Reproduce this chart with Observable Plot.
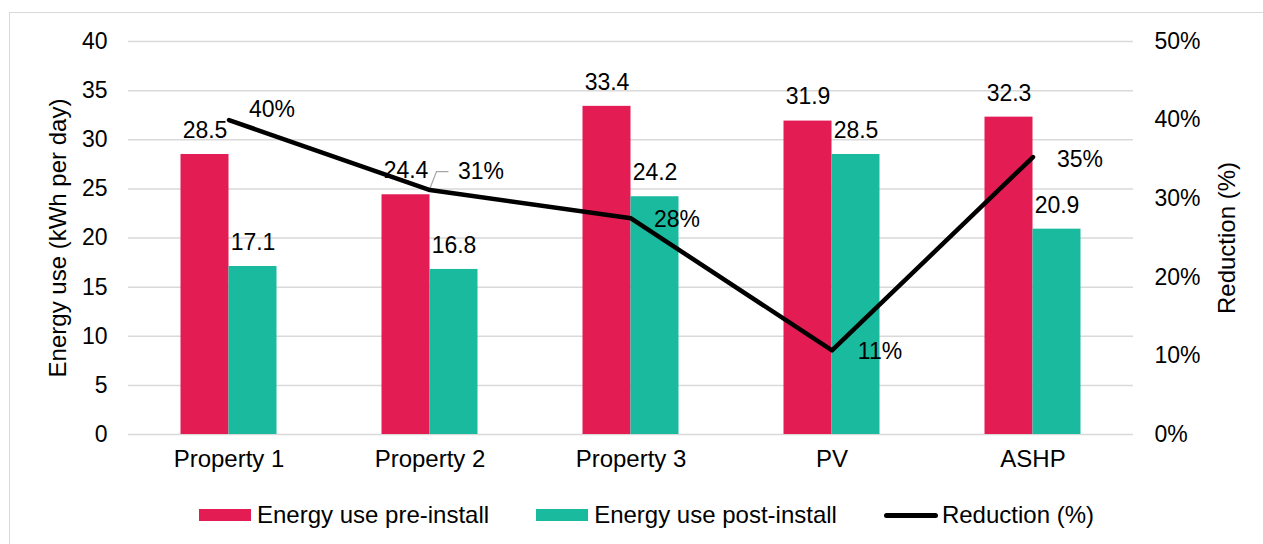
<!DOCTYPE html>
<html>
<head>
<meta charset="utf-8">
<script src="https://cdn.jsdelivr.net/npm/d3@7"></script>
<script src="https://cdn.jsdelivr.net/npm/@observablehq/plot@0.6"></script>
<style>
  html, body { margin: 0; padding: 0; background: #fff; overflow: hidden; }
  body { font-family: "Liberation Sans", Arial, sans-serif; color: #000; }
  #frame { position: absolute; left: 9px; top: 12px; width: 1300px; height: 600px;
           border: 1px solid #d9d9d9; pointer-events: none; }
  #chart { position: relative; }
  #legend { display: flex; align-items: center; height: 30px; margin-top: 20px;
            padding-left: 199px; font-size: 24px; gap: 47px; }
  .item { display: flex; align-items: center; white-space: nowrap; }
  .swatch { width: 52px; height: 12px; margin-right: 6px; }
  .lineSwatch { width: 54px; height: 5px; border-radius: 3px; background: #000; margin-right: 4px; }
</style>
</head>
<body>
<div id="chart"></div>
<div id="frame"></div>
<script>
// Daily energy use before and after each install, with the percentage reduction
const categories = ["Property 1", "Property 2", "Property 3", "PV", "ASHP"];
const preInstall = [28.5, 24.4, 33.4, 31.9, 32.3];
const postInstall = [17.1, 16.8, 24.2, 28.5, 20.9];
const reduction = [0.40, 0.311, 0.275, 0.107, 0.353];
const energyTicks = [0, 5, 10, 15, 20, 25, 30, 35, 40];
const reductionTicks = [0, 0.1, 0.2, 0.3, 0.4, 0.5];
const seriesNames = ["Energy use pre-install", "Energy use post-install", "Reduction (%)"];

const RED = "#E31C54";
const TEAL = "#1ABA9F";
const GRID = "#d9d9d9";

const W = 1263, H = 480;
const mL = 128, mR = 130, mT = 41, mB = 46;
const bw = (W - mL - mR) / categories.length;
const barW = 48;

// the reduction axis (0–50%) shares the energy axis (0–40)
const k = 40 / 0.5;

const rows = categories.map((c, i) => ({
  category: c, pre: preInstall[i], post: postInstall[i], reduction: reduction[i]
}));

// label placement beside each point of the reduction line
const reductionLabelShift = [[43, -10], [51, -18], [46, 1], [48, 1], [47, 3]];
const pct = d3.format(".0%");

const reductionLabels = rows.map((d, i) => Plot.text([d], {
  x: "category", y: r => r.reduction * k, text: r => pct(r.reduction),
  dx: reductionLabelShift[i][0], dy: reductionLabelShift[i][1], fill: "#000"
}));

// leader from the Property 2 point to its label
const leader = (index, scales) => {
  const i = 1;
  const off = typeof scales.x.bandwidth === "function" ? scales.x.bandwidth() / 2 : bw / 2;
  const x0 = scales.x(categories[i]) + off;
  const y0 = scales.y(reduction[i] * k);
  const ns = "http://www.w3.org/2000/svg";
  const p = document.createElementNS(ns, "path");
  p.setAttribute("d", `M${x0},${y0}L${x0 + 7},${y0 - 18}H${x0 + 19}`);
  p.setAttribute("fill", "none");
  p.setAttribute("stroke", "#a6a6a6");
  p.setAttribute("stroke-width", "1.2");
  return p;
};

const chart = Plot.plot({
  width: W, height: H,
  marginLeft: mL, marginRight: mR, marginTop: mT, marginBottom: mB,
  style: { fontFamily: "Liberation Sans, Arial, sans-serif", fontSize: "23px", color: "#000", background: "transparent" },
  x: { type: "band", domain: categories, padding: 0, label: null },
  y: { domain: [0, 40], label: null },
  marks: [
    Plot.gridY(energyTicks, { stroke: GRID, strokeOpacity: 1, strokeWidth: 1.5 }),
    Plot.barY(rows, { x: "category", y: "pre", fill: RED, insetLeft: bw / 2 - barW, insetRight: bw / 2 }),
    Plot.barY(rows, { x: "category", y: "post", fill: TEAL, insetLeft: bw / 2, insetRight: bw / 2 - barW }),
    Plot.axisX({ tickSize: 0, tickPadding: 15, label: null, fill: "#000", fontSize: 24 }),
    Plot.axisY(energyTicks, { anchor: "left", tickSize: 0, tickPadding: 21, label: null, fill: "#000" }),
    Plot.axisY(reductionTicks.map(r => r * k), {
      anchor: "right", tickSize: 0, tickPadding: 21, label: null, fill: "#000",
      tickFormat: d => pct(d / k)
    }),
    Plot.text(["Energy use (kWh per day)"], { frameAnchor: "left", textAnchor: "middle", dx: -70, rotate: -90, fill: "#000", fontSize: 24 }),
    Plot.text(["Reduction (%)"], { frameAnchor: "right", textAnchor: "middle", dx: 94, rotate: -90, fill: "#000", fontSize: 24 }),
    Plot.text(rows, { x: "category", y: "pre", text: d => d.pre.toFixed(1), dx: -barW / 2, dy: -24, fill: "#000" }),
    Plot.text(rows, { x: "category", y: "post", text: d => d.post.toFixed(1), dx: barW / 2, dy: -24, fill: "#000" }),
    leader,
    Plot.line(rows, { x: "category", y: d => d.reduction * k, stroke: "#000", strokeWidth: 4.5,
                      strokeLinecap: "round", strokeLinejoin: "round" }),
    ...reductionLabels
  ]
});
document.getElementById("chart").appendChild(chart);

// legend below the chart
const legend = document.createElement("div");
legend.id = "legend";
const swatches = [`<span class="swatch" style="background:${RED}"></span>`,
                  `<span class="swatch" style="background:${TEAL}"></span>`,
                  `<span class="lineSwatch"></span>`];
legend.innerHTML = seriesNames.map((n, i) => `<div class="item">${swatches[i]}<span>${n}</span></div>`).join("");
document.getElementById("chart").appendChild(legend);
</script>
</body>
</html>
